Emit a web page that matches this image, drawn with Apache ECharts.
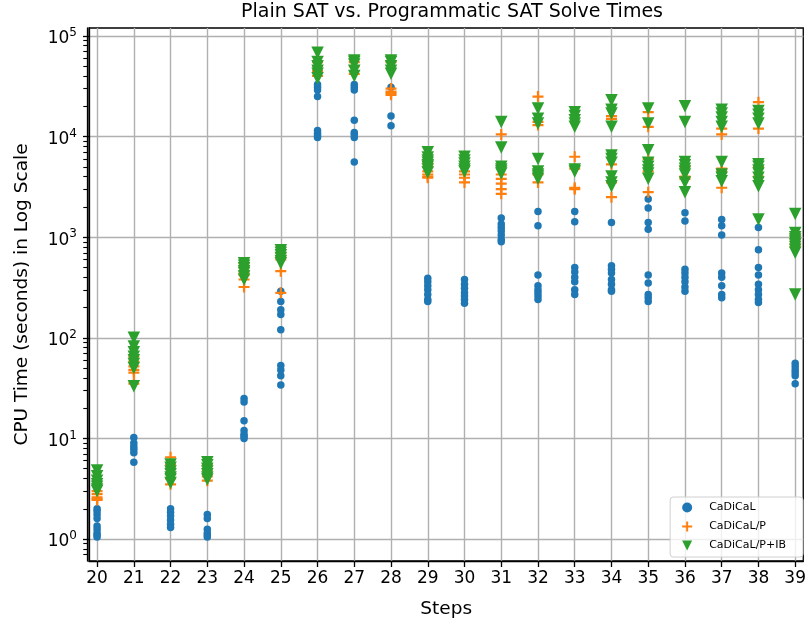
<!DOCTYPE html>
<html><head><meta charset="utf-8">
<script src="https://cdn.jsdelivr.net/npm/echarts@6/dist/echarts.min.js"></script>
<style>html,body{margin:0;padding:0;background:#fff}#c{width:809px;height:624px}</style>
</head><body><div id="c"></div>
<script>
const steps = [20,21,22,23,24,25,26,27,28,29,30,31,32,33,34,35,36,37,38,39];
const yTicks = [1,10,100,1000,10000,100000];
const seriesNames = ['CaDiCaL','CaDiCaL/P','CaDiCaL/P+IB'];
const cadical = [
 [2.0,1.9,1.75,1.6,1.35,1.25,1.15,1.1,1.05],
 [10.2,9.0,8.3,7.8,7.2,5.8],
 [2.0,1.85,1.7,1.55,1.4,1.3],
 [1.75,1.6,1.25,1.15,1.1,1.05],
 [25,23,15,12,11,10.5,10],
 [290,230,190,170,120,53,48,42,34],
 [33000,31000,29000,25000,11500,10800,10200,9800],
 [33000,31000,29000,14500,11000,10500,9800,5600],
 [31000,16000,12800],
 [390,360,330,300,270,240,230],
 [380,340,310,280,260,240,220],
 [1550,1350,1250,1150,1050,950,900],
 [1800,1300,420,330,300,280,260,240],
 [1800,1420,500,450,400,360,300,270],
 [1400,520,480,440,380,340,300,290],
 [2400,1950,1400,1200,420,350,270,250,230],
 [1750,1450,480,440,400,360,320,290],
 [1500,1300,1050,440,400,330,270,250],
 [1250,750,500,420,340,300,270,240,225],
 [56,52,48,45,42,35]
];
const cadicalP = [
 [3.0,2.8,2.6,2.5,2.45],
 [65,58,52,48,45,35],
 [6.5,5.5,5.0,4.5,4.0,3.5],
 [5.5,4.8,4.2,3.8],
 [550,500,450,420,380,320],
 [700,650,600,460,280],
 [55000,50000,45000,40000],
 [55000,50000,42000],
 [55000,30000,28000,27000,26000],
 [5500,5000,4500,4200,4000,3900],
 [4500,4200,3900,3500],
 [10500,4200,3800,3400,3000,2700],
 [25000,14000,13000,4200,3500],
 [6300,4800,3100,3000],
 [16000,15000,5300,3500,2500],
 [17500,12500,6000,4500,2800],
 [5000,4000,3800],
 [12000,10500,4800,4500,3100],
 [22000,12000,5000,4000],
 [1050,950,850,800]
];
const cadicalPIB = [
 [4.8,4.2,3.8,3.5,3.3,3.1,3.0],
 [100,82,72,65,60,55,50,33],
 [5.5,5.1,4.7,4.4,4.1,3.9,3.6],
 [5.8,5.4,5.0,4.7,4.4,4.1,3.9],
 [550,520,490,460,440,410,380],
 [740,700,660,620,580,550],
 [68000,55000,50000,45000,42000,38000],
 [57000,55000,52000,45000,40000],
 [57000,55000,50000,45000,42000],
 [7000,6200,5800,5500,5200,5000,4700,4400],
 [6300,5800,5400,5000,4700,4500],
 [14000,7800,5000,4700,4500,4300],
 [19000,15000,13500,6000,4500,4200,4000,3800],
 [17500,16000,14500,13500,12500,4700,4500],
 [23000,18500,17000,12500,6500,6000,5500,4000,3500,3200],
 [19000,13500,7300,5500,5000,4600,4300,3800],
 [20000,14000,5600,5200,4800,4500,4200,3500,2800],
 [18500,17000,15500,14000,12500,5600,4200,3900,3600],
 [18000,16500,15000,13500,5300,5000,4600,4300,3900,3500,3200,1500],
 [1700,1100,1000,950,900,850,800,750,700,270]
];

function pts(arr){ const out=[]; arr.forEach((vals,i)=>vals.forEach(v=>out.push([steps[i],v]))); return out; }
const minorTicks = [];
for (let e=-1;e<=4;e++) for (let m=2;m<=9;m++){ const v=m*Math.pow(10,e); if(v>0.6 && v<120000) minorTicks.push(v); }

const FONT = 'DejaVu Sans';
const chart = echarts.init(document.getElementById('c'), null, {renderer:'canvas'});
const PLUS = 'path://M4,0H6V4H10V6H6V10H4V6H0V4H4Z';
const TRI = 'path://M0,0L10,0L5,10Z';
chart.setOption({
  animation:false,
  backgroundColor:'#fff',
  title:{text:'Plain SAT vs. Programmatic SAT Solve Times', left:447, top:-2, textAlign:'center',
    textStyle:{fontFamily:FONT,fontSize:19,fontWeight:'normal',color:'#000'}},
  grid:{left:89,right:4,top:28,bottom:62,show:true,borderColor:'#000',borderWidth:1.3,backgroundColor:'transparent'},
  legend:{orient:'vertical',right:6,bottom:67,data:seriesNames,itemWidth:34,itemHeight:10,itemGap:8,
    padding:[5,17,6,12],borderColor:'#d0d0d0',borderWidth:1,borderRadius:3,backgroundColor:'rgba(255,255,255,0.8)',
    textStyle:{fontFamily:FONT,fontSize:11,color:'#000'}},
  xAxis:{type:'value',min:19.78,max:39.22,
    name:'Steps',nameLocation:'middle',nameGap:39,nameTextStyle:{fontFamily:FONT,fontSize:18.5,color:'#000'},
    axisLine:{show:true,onZero:false,lineStyle:{color:'#000',width:1.3}},
    axisTick:{show:true,length:6,customValues:steps,lineStyle:{color:'#000',width:1.3}},
    axisLabel:{customValues:steps,margin:9,fontFamily:FONT,fontSize:17,color:'#000'},
    splitLine:{show:true,lineStyle:{color:'#b0b0b0',width:1.4}}},
  yAxis:[{type:'log',logBase:10,min:0.605,max:120000,
    name:'CPU Time (seconds) in Log Scale',nameLocation:'middle',nameGap:57,nameTextStyle:{fontFamily:FONT,fontSize:18.5,color:'#000'},
    axisLine:{show:true,onZero:false,lineStyle:{color:'#000',width:1.3}},
    axisTick:{show:true,length:6,customValues:yTicks,lineStyle:{color:'#000',width:1.3}},
    axisLabel:{customValues:yTicks,margin:12,fontFamily:FONT,color:'#000',
      formatter:function(v){return '{b|10}{s|'+Math.round(Math.log10(v))+'}';},
      rich:{b:{fontFamily:FONT,fontSize:17,color:'#000',padding:[6,0,0,0]},s:{fontFamily:FONT,fontSize:12,color:'#000',padding:[0,0,6,0]}}},
    splitLine:{show:true,lineStyle:{color:'#b0b0b0',width:1.4}}},
   {type:'log',logBase:10,min:0.605,max:120000,position:'right',offset:-716,
    axisLine:{show:true,lineStyle:{color:'#000',width:1.3}},axisLabel:{show:false},splitLine:{show:false},
    axisTick:{show:true,inside:true,length:4,customValues:minorTicks,lineStyle:{color:'#000',width:1.1}}}],
  series:[
    {name:seriesNames[0],type:'scatter',data:pts(cadical),symbol:'circle',symbolSize:7.5,itemStyle:{color:'#1f77b4',opacity:1}},
    {name:seriesNames[1],type:'scatter',data:pts(cadicalP),symbol:PLUS,symbolSize:11,itemStyle:{color:'#ff7f0e',opacity:1}},
    {name:seriesNames[2],type:'scatter',data:pts(cadicalPIB),symbol:TRI,symbolSize:12.5,itemStyle:{color:'#2ca02c',opacity:1}}
  ]
});
</script></body></html>
